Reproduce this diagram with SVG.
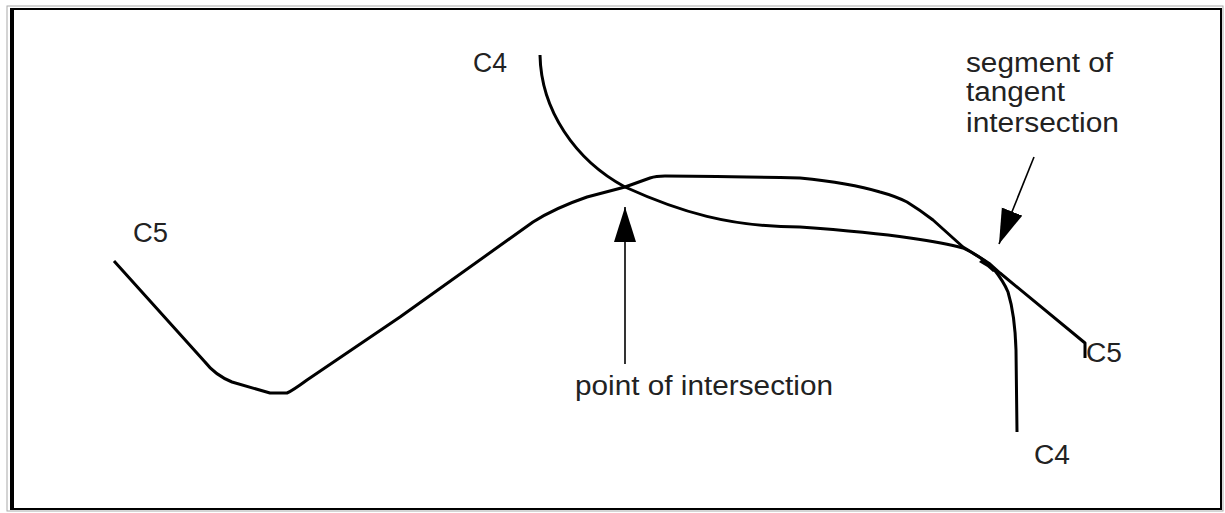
<svg xmlns="http://www.w3.org/2000/svg" width="1225" height="513" viewBox="0 0 1225 513">
<style>
.curve{fill:none;stroke:#000;stroke-width:3;stroke-linecap:butt;stroke-linejoin:round}
.lead{fill:none;stroke:#000;stroke-width:1.6}
.lbl{font-family:"Liberation Sans",Arial,sans-serif;font-size:27px;fill:#222}
</style>
<defs>
<marker id="ah" markerUnits="userSpaceOnUse" markerWidth="36" markerHeight="24" refX="35" refY="11" orient="auto">
<path d="M0,0 L35,11 L0,22 Z" fill="#000"/>
</marker>
</defs>
<rect width="1225" height="513" fill="#fff"/>
<g id="frame">
<rect x="7" y="6" width="1216" height="505" fill="none" stroke="#aaa" stroke-width="1"/>
<rect x="11" y="9" width="1210" height="500" fill="none" stroke="#000" stroke-width="2"/>
<line x1="12" y1="8" x2="12" y2="510" stroke="#000" stroke-width="4"/>
</g>
<g id="curve-c5">
<path class="curve" d="M114,261 L205,362 Q215,375 232,382 L270,393 L287,393 Q292,391 307,380 L400,317 L533,222 Q555,208 587,197 L625,187 L650,178 Q656,176 665,176 Q700,176 800,178 Q850,183 880,192 Q895,196 907,202 Q920,210 933,220 L963,247 Q978,256 990,264 L1000,273 L1085,343 L1085,358"/>
</g>
<g id="curve-c4">
<path class="curve" d="M540,55 C541,110 575,160 625,187 C680,212 730,227 800,227 Q870,232 910,238 Q945,243 963,248 Q982,257 993,268 Q1004,282 1008,292 Q1015,315 1016,350 L1017,432"/>
<path d="M982,259 Q990,263 997,270 L993,272 Q987,266 979,262 Z" fill="#000"/>
</g>
<g id="connectors">
<line class="lead" x1="625" y1="364" x2="625" y2="207" marker-end="url(#ah)"/>
<line class="lead" x1="1034" y1="157" x2="999" y2="244" stroke-width="3" marker-end="url(#ah)"/>
</g>
<g id="label-c5-left"><text class="lbl" x="133" y="242" textLength="35" lengthAdjust="spacingAndGlyphs">C5</text></g>
<g id="label-c4-top"><text class="lbl" x="473" y="72" textLength="34" lengthAdjust="spacingAndGlyphs">C4</text></g>
<g id="label-c5-right"><text class="lbl" x="1086" y="362" textLength="36" lengthAdjust="spacingAndGlyphs">C5</text></g>
<g id="label-c4-bottom"><text class="lbl" x="1034" y="464" textLength="36" lengthAdjust="spacingAndGlyphs">C4</text></g>
<g id="label-point"><text class="lbl" x="575" y="395" textLength="258" lengthAdjust="spacingAndGlyphs">point of intersection</text></g>
<g id="label-segment">
<text class="lbl" x="966" y="72" textLength="147" lengthAdjust="spacingAndGlyphs">segment of</text>
<text class="lbl" x="966" y="101" textLength="99" lengthAdjust="spacingAndGlyphs">tangent</text>
<text class="lbl" x="966" y="132" textLength="153" lengthAdjust="spacingAndGlyphs">intersection</text>
</g>
</svg>
